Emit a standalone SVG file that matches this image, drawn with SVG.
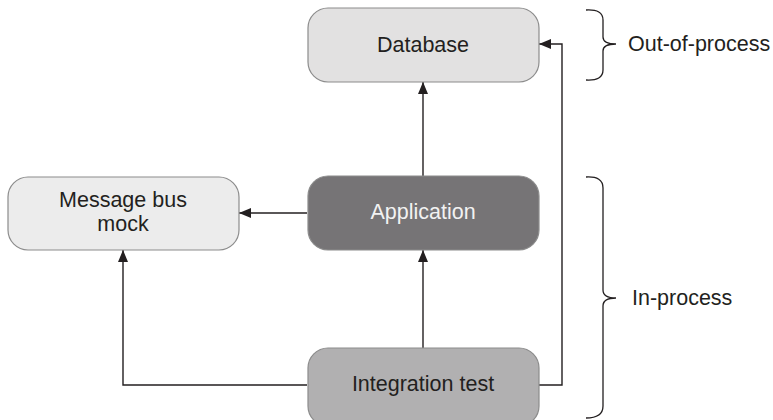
<svg xmlns="http://www.w3.org/2000/svg" width="773" height="420" viewBox="0 0 773 420">
<style>
  .node { stroke: #8c8c8c; stroke-width: 1.2; }
  .lbl { font-family: "Liberation Sans", Arial, sans-serif; font-size: 21.5px; fill: #231f20; text-anchor: middle; dominant-baseline: central; }
  .conn { fill: none; stroke: #231f20; stroke-width: 1.4; }
  .brace { fill: none; stroke: #231f20; stroke-width: 1.3; }
  .side { font-family: "Liberation Sans", Arial, sans-serif; font-size: 21.5px; fill: #231f20; dominant-baseline: central; }
</style>
<defs>
  <marker id="arr" viewBox="0 0 12 10" refX="12" refY="5" markerWidth="12" markerHeight="10" markerUnits="userSpaceOnUse" orient="auto">
    <path d="M0,0 L12,5 L0,10 Z" fill="#231f20"/>
  </marker>
</defs>
<rect width="773" height="420" fill="#ffffff"/>
<g id="connectors">
  <path class="conn" d="M423,176 L423,82" marker-end="url(#arr)"/>
  <path class="conn" d="M423,348 L423,250" marker-end="url(#arr)"/>
  <path class="conn" d="M307,213 L239,213" marker-end="url(#arr)"/>
  <path class="conn" d="M307,385 L123,385 L123,250" marker-end="url(#arr)"/>
  <path class="conn" d="M539,385 L562,385 L562,44 L539,44" marker-end="url(#arr)"/>
</g>
<g id="database">
  <rect class="node" x="308" y="8" width="231" height="74" rx="20" fill="#e2e1e1"/>
  <text class="lbl" x="423" y="45">Database</text>
</g>
<g id="message-bus-mock">
  <rect class="node" x="8" y="177" width="231" height="73" rx="20" fill="#ececec"/>
  <text class="lbl" x="123" y="200">Message bus</text>
  <text class="lbl" x="123" y="224">mock</text>
</g>
<g id="application">
  <rect class="node" x="308" y="176" width="231" height="74" rx="20" fill="#767476"/>
  <text class="lbl" x="423" y="212" style="fill:#f2f2f2">Application</text>
</g>
<g id="integration-test">
  <rect class="node" x="308" y="348" width="231" height="78" rx="20" fill="#b1b0b1"/>
  <text class="lbl" x="423" y="384">Integration test</text>
</g>
<g id="out-of-process">
  <path class="brace" d="M586,10 Q603,9 603,20 L603,37 Q603,44 616,44 Q603,44 603,51 L603,70 Q603,81 586,80"/>
  <text class="side" x="628" y="44">Out-of-process</text>
</g>
<g id="in-process">
  <path class="brace" d="M586,177 Q603,176 603,188 L603,290 Q603,298 616,298 Q603,298 603,306 L603,406 Q603,418 586,418"/>
  <text class="side" x="632" y="298">In-process</text>
</g>
</svg>
